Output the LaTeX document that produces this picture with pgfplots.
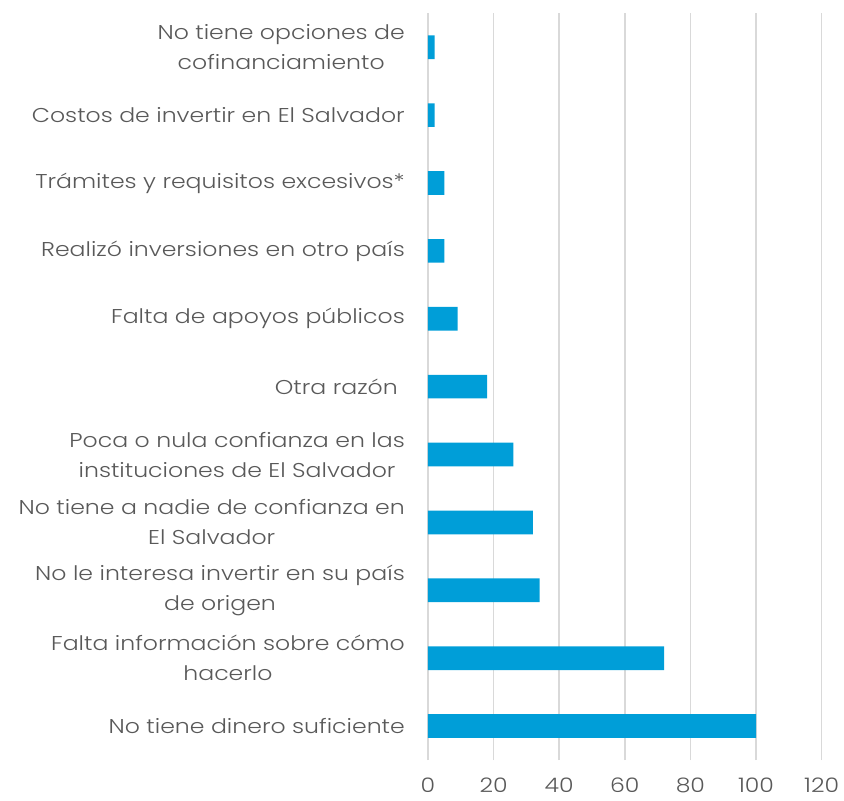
\documentclass[border=0pt]{standalone}
\usepackage{pgfplots}
\pgfplotsset{compat=1.18}
\usepackage{fontspec}
\setmainfont{Poppins}[UprightFont={* Light}, FakeStretch=1.18]
\definecolor{barblue}{HTML}{009ED8}
\definecolor{gridgray}{HTML}{D9D9D9}
\definecolor{txtgray}{HTML}{595959}
\begin{document}
\begin{tikzpicture}
\useasboundingbox (0,0) rectangle (844pt,801pt);
\begin{axis}[
  at={(428pt,41pt)}, anchor=south west, scale only axis,
  width=393.6pt, height=746.7pt,
  xmin=0, xmax=120, ymin=-0.5, ymax=10.5,
  xbar, bar width=23.7pt,
  xtick={0,20,...,120},
  ytick={0,...,10},
  yticklabels={No tiene dinero suficiente,
    {Falta información sobre cómo\\hacerlo},
    {No le interesa invertir en su país\\de origen},
    {No tiene a nadie de confianza en\\El Salvador},
    {Poca o nula confianza en las\\instituciones de El Salvador},
    {Otra razón\hspace*{7pt}},
    Falta de apoyos públicos,
    Realizó inversiones en otro país,
    Trámites y requisitos excesivos*,
    Costos de invertir en El Salvador,
    {No tiene opciones de\\cofinanciamiento}},
  xmajorgrids, grid style={gridgray, line width=1.5pt},
  axis line style={draw=none},
  major tick length=0pt,
  tick style={draw=none},
  /pgf/number format/assume math mode=true,
  xticklabel style={font=\fontsize{20}{24}\selectfont, text=txtgray, inner sep=0pt, anchor=center, yshift=-25pt},
  yticklabel style={font=\fontsize{20}{30}\selectfont, text=txtgray, align=center, inner sep=0pt, anchor=east, xshift=-23pt},
]
\addplot[fill=barblue, draw=none] coordinates {(100,0) (72,1) (34,2) (32,3) (26,4) (18,5) (9,6) (5,7) (5,8) (2,9) (2,10)};
\end{axis}
\end{tikzpicture}
\end{document}
